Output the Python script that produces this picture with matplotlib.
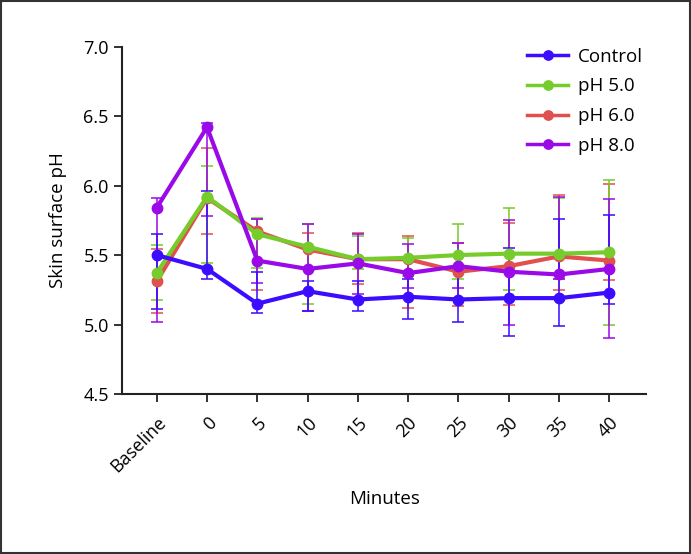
import matplotlib.pyplot as plt
from matplotlib.patches import Rectangle

plt.rcParams['font.family'] = ['Open Sans', 'DejaVu Sans']

labels = ["Baseline", "0", "5", "10", "15", "20", "25", "30", "35", "40"]

control = [5.50, 5.40, 5.15, 5.24, 5.18, 5.20, 5.18, 5.19, 5.19, 5.23]
control_lo = [5.11, 5.33, 5.08, 5.10, 5.10, 5.04, 5.02, 4.92, 4.99, 5.15]
control_hi = [5.65, 5.96, 5.38, 5.31, 5.31, 5.33, 5.40, 5.55, 5.76, 5.79]

ph5 = [5.37, 5.92, 5.65, 5.56, 5.47, 5.48, 5.50, 5.51, 5.51, 5.52]
ph5_lo = [5.18, 5.44, 5.41, 5.15, 5.40, 5.35, 5.33, 5.25, 5.33, 5.00]
ph5_hi = [5.57, 6.14, 5.77, 5.72, 5.64, 5.62, 5.72, 5.84, 5.91, 6.04]

ph6 = [5.31, 5.91, 5.67, 5.54, 5.47, 5.47, 5.38, 5.42, 5.49, 5.46]
ph6_lo = [5.08, 5.65, 5.25, 5.40, 5.29, 5.12, 5.13, 5.14, 5.25, 5.32]
ph6_hi = [5.54, 6.27, 5.76, 5.66, 5.66, 5.64, 5.59, 5.73, 5.93, 6.01]

ph8 = [5.84, 6.42, 5.46, 5.40, 5.44, 5.37, 5.42, 5.38, 5.36, 5.40]
ph8_lo = [5.02, 5.78, 5.30, 5.10, 5.22, 5.26, 5.26, 5.00, 5.33, 4.90]
ph8_hi = [5.91, 6.45, 5.76, 5.72, 5.65, 5.58, 5.59, 5.75, 5.92, 5.90]

series = [
    ("Control", control, control_lo, control_hi, "#3c0cff", 5),
    ("pH 5.0", ph5, ph5_lo, ph5_hi, "#76cc2a", 3),
    ("pH 6.0", ph6, ph6_lo, ph6_hi, "#e0504c", 2),
    ("pH 8.0", ph8, ph8_lo, ph8_hi, "#9a0ae8", 4),
]

fig = plt.figure(figsize=(6.91, 5.54), dpi=100)
ax = fig.add_axes([0.1766, 0.2888, 0.759, 0.6271])

x = list(range(len(labels)))
for name, y, lo, hi, col, z in series:
    err = [[v - l for v, l in zip(y, lo)], [h - v for v, h in zip(y, hi)]]
    ax.errorbar(x, y, yerr=err, fmt="none", ecolor=col, elinewidth=1.3,
                capsize=4.5, capthick=1.3, alpha=0.85, zorder=z)
    ax.plot(x, y, color=col, lw=3, marker="o", ms=7.5, label=name, zorder=z + 5)

ax.set_xlim(-0.69, 9.74)
ax.set_ylim(4.5, 7.0)
ax.set_yticks([4.5, 5.0, 5.5, 6.0, 6.5, 7.0])
ax.set_yticklabels(["4.5", "5.0", "5.5", "6.0", "6.5", "7.0"])
ax.set_xticks(x)
ax.set_xticklabels(labels, rotation=45, ha="right", rotation_mode="anchor")
ax.tick_params(labelsize=13, width=1.3, length=6, color="#222222")
ax.tick_params(axis="x", pad=8)
ax.spines["top"].set_visible(False)
ax.spines["right"].set_visible(False)
for s in ["left", "bottom"]:
    ax.spines[s].set_linewidth(1.5)
    ax.spines[s].set_color("#222222")

ax.set_ylabel("Skin surface pH", fontsize=13.5, labelpad=12)
ax.set_xlabel("Minutes", fontsize=13.5, labelpad=10)

leg = ax.legend(loc="upper right", bbox_to_anchor=(1.025, 1.045), frameon=False,
                fontsize=13.5, handlelength=2.2, labelspacing=0.62,
                handletextpad=0.5, markerscale=0.9)
for h in leg.get_lines():
    h.set_linewidth(2.5)

fig.patches.append(Rectangle((0.002, 0.002), 0.996, 0.996, transform=fig.transFigure,
                             fill=False, edgecolor="#333333", lw=1.5))

fig.savefig("out.png", dpi=100)
